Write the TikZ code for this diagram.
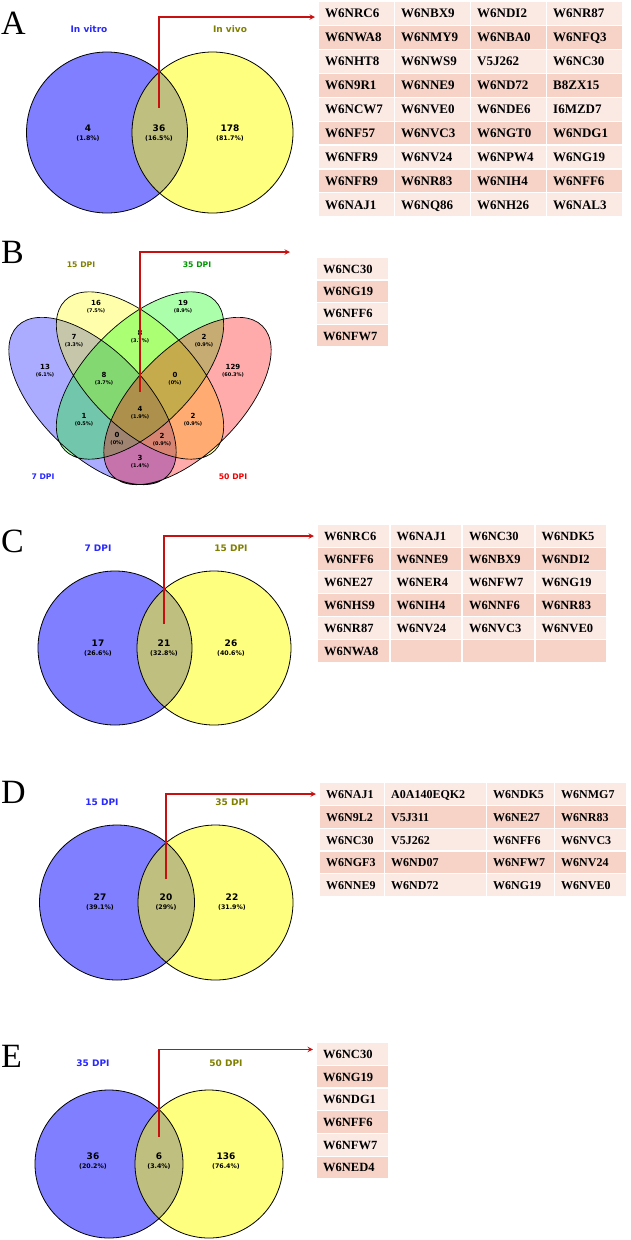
\documentclass[tikz,border=0pt]{standalone}
\usepackage{fontspec}
\setmainfont{Liberation Serif}
\setsansfont{DejaVu Sans}
\usepackage{xcolor}
\usepackage{tikz}
\usetikzlibrary{shapes,arrows,positioning,calc}

\definecolor{setblue}{RGB}{0,0,255}
\definecolor{setyellow}{RGB}{255,255,0}
\definecolor{setgreen}{RGB}{0,255,0}
\definecolor{setred}{RGB}{255,0,0}
\definecolor{txtblue}{RGB}{40,40,255}
\definecolor{txtolive}{RGB}{128,128,0}
\definecolor{txtgreen}{RGB}{0,150,0}
\definecolor{txtred}{RGB}{240,0,0}
\definecolor{rowlight}{RGB}{251,233,228}
\definecolor{rowdark}{RGB}{246,210,199}
\definecolor{linkred}{RGB}{200,16,16}

\newcommand{\duopct}[1]{{\fontsize{6.3}{9}\selectfont(#1\%)}}
\newcommand{\quadpct}[1]{{\fontsize{5}{7.3}\selectfont(#1\%)}}

\begin{document}
\begin{tikzpicture}[x=1pt,y=-1pt]
  % Define styles
  \tikzstyle{panelletter} = [font=\fontsize{34}{34}\selectfont, inner sep=0pt, anchor=base west]
  \tikzstyle{setname} = [font=\sffamily\bfseries\fontsize{9}{9}\selectfont, inner sep=0pt]
  \tikzstyle{quadname} = [font=\sffamily\bfseries\fontsize{7.7}{7.7}\selectfont, inner sep=0pt]
  \tikzstyle{duocount} = [font=\sffamily\bfseries\fontsize{9}{9}\selectfont, align=center, inner sep=0pt]
  \tikzstyle{quadcount} = [font=\sffamily\bfseries\fontsize{7}{7.3}\selectfont, align=center, inner sep=0pt]
  \tikzstyle{duofill} = [fill opacity=0.5]
  \tikzstyle{quadfill} = [fill opacity=0.33]
  \tikzstyle{rim} = [draw=black, line width=0.8pt]
  \tikzstyle{idcell} = [rectangle, anchor=north west, inner xsep=6pt, inner ysep=0pt, align=left, text height=8.8pt, text depth=0pt]
  \tikzstyle{hitlink} = [draw=linkred, line width=1.4pt, ->, >=stealth]

  \fill[white] (0,0) rectangle (630,1240);
  \useasboundingbox (0,0) rectangle (630,1240);

  % A: in vitro / in vivo
  \node[panelletter] (lettA) at (1,34) {A};
  \coordinate (cA1) at (107,132.5);
  \coordinate (cA2) at (212.5,132.5);
  \fill[duofill, setblue] (cA1) circle[radius=80.5pt];
  \fill[duofill, setyellow] (cA2) circle[radius=80.5pt];
  \draw[rim] (cA1) circle[radius=80.5pt] (cA2) circle[radius=80.5pt];
  \node[setname, txtblue] (nA1) at (89,29) {In vitro};
  \node[setname, txtolive] (nA2) at (230,29) {In vivo};
  \node[duocount] (kA1) at (88,133) {4\\\duopct{1.8}};
  \node[duocount] (kA12) at (159,133) {36\\\duopct{16.5}};
  \node[duocount] (kA2) at (230,133) {178\\\duopct{81.7}};
  \coordinate (sA) at (159,108);

  \foreach \row [count=\r from 0] in {{W6NRC6,W6NBX9,W6NDI2,W6NR87},{W6NWA8,W6NMY9,W6NBA0,W6NFQ3},
      {W6NHT8,W6NWS9,V5J262,W6NC30},{W6N9R1,W6NNE9,W6ND72,B8ZX15},{W6NCW7,W6NVE0,W6NDE6,I6MZD7},
      {W6NF57,W6NVC3,W6NGT0,W6NDG1},{W6NFR9,W6NV24,W6NPW4,W6NG19},{W6NFR9,W6NR83,W6NIH4,W6NFF6},
      {W6NAJ1,W6NQ86,W6NH26,W6NAL3}} {
    \ifodd\r \def\rowcol{rowdark}\else \def\rowcol{rowlight}\fi
    \foreach \id [count=\c from 0] in \row
      \node[idcell, fill=\rowcol, text width=62.8pt, minimum height=22.7pt, font=\bfseries\fontsize{13}{13}\selectfont]
        (tA-\r-\c) at (319+76*\c, 2+23.9*\r) {\id};
  }
  \draw[hitlink] (sA) |- ([xshift=-4pt,yshift=-3.5pt]tA-0-0.west);

  % B: four time points
  \node[panelletter] (lettB) at (1,263) {B};
  \coordinate (eB1) at (92.5,401);
  \coordinate (eB2) at (140,375.5);
  \coordinate (eB3) at (140,375.5);
  \coordinate (eB4) at (187.5,401);
  \fill[quadfill, setblue] (eB1) circle[x radius=106pt, y radius=52.5pt, rotate=-45];
  \fill[quadfill, setyellow] (eB2) circle[x radius=106pt, y radius=52.5pt, rotate=-45];
  \fill[quadfill, setgreen] (eB3) circle[x radius=106pt, y radius=52.5pt, rotate=45];
  \fill[quadfill, setred] (eB4) circle[x radius=106pt, y radius=52.5pt, rotate=45];
  \draw[rim, line width=0.7pt] (eB1) circle[x radius=106pt, y radius=52.5pt, rotate=-45]
    (eB2) circle[x radius=106pt, y radius=52.5pt, rotate=-45]
    (eB3) circle[x radius=106pt, y radius=52.5pt, rotate=45]
    (eB4) circle[x radius=106pt, y radius=52.5pt, rotate=45];
  \node[quadname, txtolive] (nB2) at (81,265) {15 DPI};
  \node[quadname, txtgreen] (nB3) at (197,265) {35 DPI};
  \node[quadname, txtblue] (nB1) at (43,477) {7 DPI};
  \node[quadname, txtred] (nB4) at (233,477) {50 DPI};
  \node[quadcount] (kB1) at (45,371) {13\\\quadpct{6.1}};
  \node[quadcount] (kB2) at (96,307) {16\\\quadpct{7.5}};
  \node[quadcount] (kB3) at (183,307) {19\\\quadpct{8.9}};
  \node[quadcount] (kB4) at (233,371) {129\\\quadpct{60.3}};
  \node[quadcount] (kB12) at (74,341) {7\\\quadpct{3.3}};
  \node[quadcount] (kB23) at (140,337) {8\\\quadpct{3.7}};
  \node[quadcount] (kB34) at (204,341) {2\\\quadpct{0.9}};
  \node[quadcount] (kB123) at (104,379) {8\\\quadpct{3.7}};
  \node[quadcount] (kB234) at (175,379) {0\\\quadpct{0}};
  \node[quadcount] (kB13) at (84,420) {1\\\quadpct{0.5}};
  \node[quadcount] (kB1234) at (140,413) {4\\\quadpct{1.9}};
  \node[quadcount] (kB24) at (193,420) {2\\\quadpct{0.9}};
  \node[quadcount] (kB134) at (117,439) {0\\\quadpct{0}};
  \node[quadcount] (kB124) at (162,440) {2\\\quadpct{0.9}};
  \node[quadcount] (kB14) at (140,462) {3\\\quadpct{1.4}};
  \coordinate (sB) at (140,392);
  \coordinate (eB) at (290,252);

  \foreach \id [count=\r from 0] in {W6NC30,W6NG19,W6NFF6,W6NFW7} {
    \ifodd\r \def\rowcol{rowdark}\else \def\rowcol{rowlight}\fi
    \node[idcell, fill=\rowcol, text width=58.8pt, minimum height=21.1pt, font=\bfseries\fontsize{12.5}{12.5}\selectfont]
      (tB-\r-0) at (317, 258+22.3*\r) {\id};
  }
  \draw[hitlink] (sB) |- (eB);

  % C: 7 DPI / 15 DPI
  \node[panelletter] (lettC) at (1,552.5) {C};
  \coordinate (cC1) at (115,648);
  \coordinate (cC2) at (214,648);
  \fill[duofill, setblue] (cC1) circle[radius=77pt];
  \fill[duofill, setyellow] (cC2) circle[radius=77pt];
  \draw[rim] (cC1) circle[radius=77pt] (cC2) circle[radius=77pt];
  \node[setname, txtblue] (nC1) at (98,548) {7 DPI};
  \node[setname, txtolive] (nC2) at (231,548) {15 DPI};
  \node[duocount] (kC1) at (98,648) {17\\\duopct{26.6}};
  \node[duocount] (kC12) at (164,648) {21\\\duopct{32.8}};
  \node[duocount] (kC2) at (231,648) {26\\\duopct{40.6}};
  \coordinate (sC) at (164,624);

  \foreach \row [count=\r from 0] in {{W6NRC6,W6NAJ1,W6NC30,W6NDK5},{W6NFF6,W6NNE9,W6NBX9,W6NDI2},
      {W6NE27,W6NER4,W6NFW7,W6NG19},{W6NHS9,W6NIH4,W6NNF6,W6NR83},{W6NR87,W6NV24,W6NVC3,W6NVE0},
      {W6NWA8,{},{},{}}} {
    \ifodd\r \def\rowcol{rowdark}\else \def\rowcol{rowlight}\fi
    \foreach \id [count=\c from 0] in \row
      \node[idcell, fill=\rowcol, text width=58.3pt, minimum height=21.8pt, font=\bfseries\fontsize{12.5}{12.5}\selectfont]
        (tC-\r-\c) at (318+72.5*\c, 525+23*\r) {\id};
  }
  \draw[hitlink] (sC) |- ([xshift=-4pt]tC-0-0.west);

  % D: 15 DPI / 35 DPI
  \node[panelletter] (lettD) at (1,803) {D};
  \coordinate (cD1) at (117,902.5);
  \coordinate (cD2) at (215.5,902.5);
  \fill[duofill, setblue] (cD1) circle[radius=77.5pt];
  \fill[duofill, setyellow] (cD2) circle[radius=77.5pt];
  \draw[rim] (cD1) circle[radius=77.5pt] (cD2) circle[radius=77.5pt];
  \node[setname, txtblue] (nD1) at (102,802) {15 DPI};
  \node[setname, txtolive] (nD2) at (232,802) {35 DPI};
  \node[duocount] (kD1) at (100,902) {27\\\duopct{39.1}};
  \node[duocount] (kD12) at (166,902) {20\\\duopct{29}};
  \node[duocount] (kD2) at (232,902) {22\\\duopct{31.9}};
  \coordinate (sD) at (166,879);

  \foreach \row [count=\r from 0] in {{W6NAJ1,A0A140EQK2,W6NDK5,W6NMG7},{W6N9L2,V5J311,W6NE27,W6NR83},
      {W6NC30,V5J262,W6NFF6,W6NVC3},{W6NGF3,W6ND07,W6NFW7,W6NV24},{W6NNE9,W6ND72,W6NG19,W6NVE0}} {
    \ifodd\r \def\rowcol{rowdark}\else \def\rowcol{rowlight}\fi
    \foreach \id [count=\c from 0] in \row {
      \pgfmathsetmacro{\cx}{{320,385,487,555}[\c]}
      \pgfmathsetmacro{\cw}{{65,102,68,72}[\c]-13.2}
      \node[idcell, fill=\rowcol, text width=\cw pt, minimum height=21.6pt, font=\bfseries\fontsize{12}{12}\selectfont]
        (tD-\r-\c) at (\cx, 783+22.8*\r) {\id};
    }
  }
  \draw[hitlink] (sD) |- ([xshift=-4pt]tD-0-0.west);

  % E: 35 DPI / 50 DPI
  \node[panelletter] (lettE) at (1,1067) {E};
  \coordinate (cE1) at (109,1164);
  \coordinate (cE2) at (209,1164);
  \fill[duofill, setblue] (cE1) circle[radius=74pt];
  \fill[duofill, setyellow] (cE2) circle[radius=74pt];
  \draw[rim] (cE1) circle[radius=74pt] (cE2) circle[radius=74pt];
  \node[setname, txtblue] (nE1) at (93,1063) {35 DPI};
  \node[setname, txtolive] (nE2) at (226,1063) {50 DPI};
  \node[duocount] (kE1) at (93,1161) {36\\\duopct{20.2}};
  \node[duocount] (kE12) at (159,1161) {6\\\duopct{3.4}};
  \node[duocount] (kE2) at (226,1161) {136\\\duopct{76.4}};
  \coordinate (sE) at (159,1137);

  \foreach \id [count=\r from 0] in {W6NC30,W6NG19,W6NDG1,W6NFF6,W6NFW7,W6NED4} {
    \ifodd\r \def\rowcol{rowdark}\else \def\rowcol{rowlight}\fi
    \node[idcell, fill=\rowcol, text width=58.8pt, minimum height=21.5pt, font=\bfseries\fontsize{12.5}{12.5}\selectfont]
      (tE-\r-0) at (317, 1043+22.7*\r) {\id};
  }
  \draw[hitlink] (sE) |- ([xshift=-4pt,yshift=4.5pt]tE-0-0.west);

\end{tikzpicture}
\end{document}
